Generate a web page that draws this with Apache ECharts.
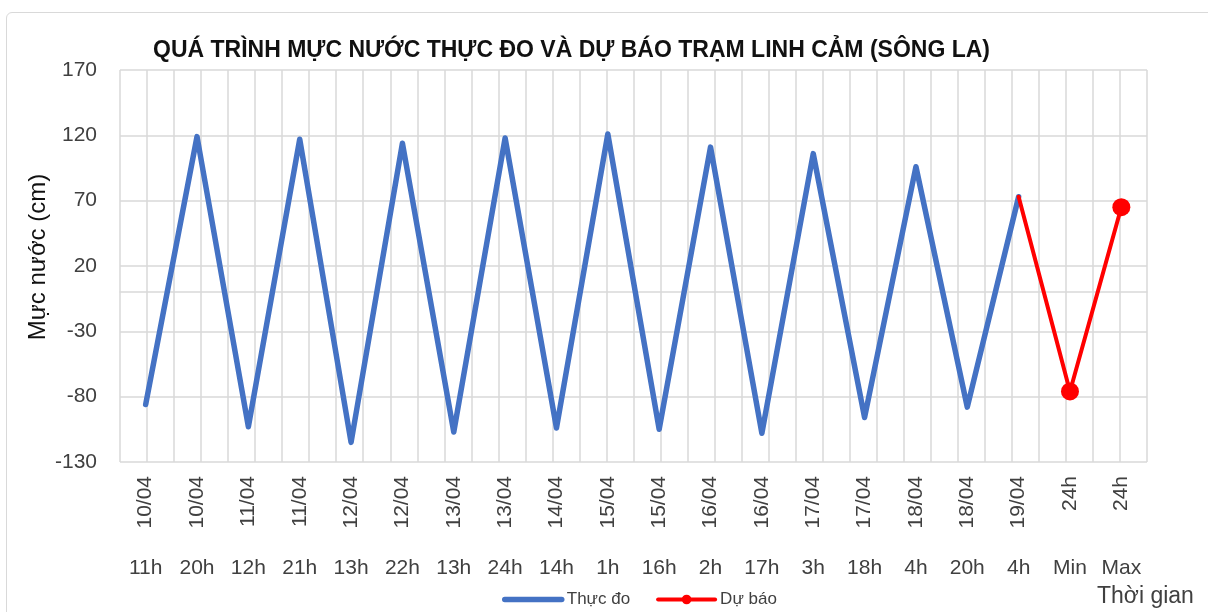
<!DOCTYPE html>
<html>
<head>
<meta charset="utf-8">
<title>Linh Cảm</title>
<script src="https://cdn.jsdelivr.net/npm/echarts@6/dist/echarts.min.js"></script>
<style>
html, body { margin: 0; padding: 0; width: 1208px; height: 612px; overflow: hidden; background: #fff; }
.frame { position: absolute; left: 6px; top: 12px; width: 1300px; height: 700px; border: 1.5px solid #d9d9d9; border-radius: 6px; }
#chart { position: absolute; left: 0; top: 0; width: 1208px; height: 612px; }
</style>
</head>
<body>
<div class="frame"></div>
<div id="chart"></div>
<script>
// nhãn trục hoành (2 tầng)
const dates = ['10/04', '10/04', '11/04', '11/04', '12/04', '12/04', '13/04', '13/04', '14/04', '15/04',
  '15/04', '16/04', '16/04', '17/04', '17/04', '18/04', '18/04', '19/04', '24h', '24h']
const hours = ['11h', '20h', '12h', '21h', '13h', '22h', '13h', '24h', '14h', '1h',
  '16h', '2h', '17h', '3h', '18h', '4h', '20h', '4h', 'Min', 'Max']
// mực nước thực đo / dự báo (cm)
const thucDo = [-86, 119, -103, 117, -115, 114, -107, 118, -104, 121,
  -105, 111, -108, 106, -96, 96, -88, 73, null, null]
const duBao = [null, null, null, null, null, null, null, null, null, null,
  null, null, null, null, null, null, null, 73, -76, 65]
const yTicks = [-130, 170, 50]

const fontFamily = '"Liberation Sans", Arial, sans-serif'
const labelColor = '#404040'
const gridColor = '#d9d9d9'

const chart = echarts.init(document.getElementById('chart'))

const option = {
  animation: false,
  title: {
    text: 'QUÁ TRÌNH MỰC NƯỚC THỰC ĐO VÀ DỰ BÁO TRẠM LINH CẢM (SÔNG LA)',
    left: 148,
    top: 34,
    textStyle: { fontFamily: fontFamily, fontSize: 23, fontWeight: 'bold', color: '#111' }
  },
  legend: {
    left: 497,
    top: 586,
    itemWidth: 57,
    itemHeight: 12,
    itemGap: 26,
    textStyle: { fontFamily: fontFamily, fontSize: 17, color: labelColor },
    data: [
      { name: 'Thực đo', lineStyle: { width: 5.5 }, itemStyle: { opacity: 0, color: 'transparent' } },
      { name: 'Dự báo', lineStyle: { width: 4 } }
    ]
  },
  graphic: [
    {
      type: 'text',
      left: 1097,
      top: 585,
      style: { text: 'Thời gian', fontFamily: fontFamily, fontSize: 23, fill: labelColor }
    }
  ],
  grid: { left: 120, right: 61, top: 70, bottom: 150 },
  xAxis: [
    {
      type: 'category',
      position: 'bottom',
      data: dates,
      boundaryGap: true,
      axisLine: { lineStyle: { color: gridColor, width: 1.5 } },
      axisTick: { length: 121, lineStyle: { color: gridColor, width: 1.5 } },
      axisLabel: { interval: 0, rotate: 90, margin: 14, fontFamily: fontFamily, fontSize: 21, color: labelColor },
      splitLine: { show: false }
    },
    {
      type: 'category',
      position: 'bottom',
      data: hours,
      boundaryGap: true,
      axisLine: { show: false },
      axisTick: { show: false },
      axisLabel: { interval: 0, margin: 96, fontFamily: fontFamily, fontSize: 21, color: labelColor },
      splitLine: { show: false }
    },
    {
      // lưới dọc theo nửa khoảng
      type: 'value',
      position: 'top',
      min: -0.5,
      max: 18.5,
      interval: 0.5,
      axisLine: { show: false },
      axisTick: { show: false },
      axisLabel: { show: false },
      splitLine: { show: true, lineStyle: { color: gridColor, width: 1.5 } }
    }
  ],
  yAxis: {
    type: 'value',
    min: yTicks[0],
    max: yTicks[1],
    interval: yTicks[2],
    name: 'Mực nước (cm)',
    nameLocation: 'middle',
    nameGap: 70,
    nameMoveOverlap: false,
    nameRotate: 90,
    nameTextStyle: { fontFamily: fontFamily, fontSize: 24, color: '#111', padding: [0, 0, 0, 18] },
    axisLine: { show: false },
    axisTick: { show: false },
    axisLabel: { margin: 23, fontFamily: fontFamily, fontSize: 21, color: labelColor },
    splitLine: { lineStyle: { color: gridColor, width: 1.5 } }
  },
  series: [
    {
      name: 'Thực đo',
      type: 'line',
      xAxisIndex: 0,
      data: thucDo,
      symbol: 'none',
      color: '#4472C4',
      lineStyle: { width: 5.5, color: '#4472C4', join: 'round', cap: 'round' }
    },
    {
      name: 'Dự báo',
      type: 'line',
      xAxisIndex: 0,
      data: duBao.map((v, i) => (i === 17 ? { value: v, symbol: 'none' } : v)),
      symbol: 'circle',
      symbolSize: 18,
      color: '#FF0000',
      itemStyle: { color: '#FF0000' },
      lineStyle: { width: 4, color: '#FF0000', join: 'round', cap: 'round' }
    }
  ]
}

chart.setOption(option)
window.addEventListener('resize', chart.resize)
</script>
</body>
</html>
